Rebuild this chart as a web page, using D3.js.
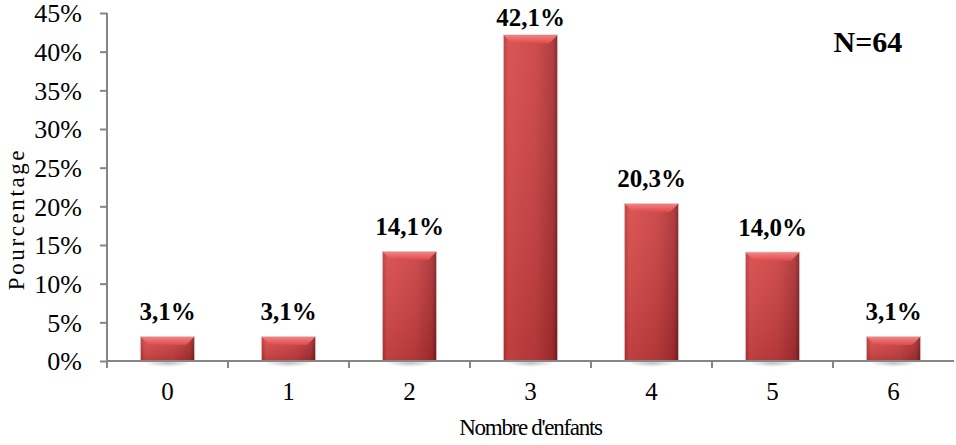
<!DOCTYPE html>
<html>
<head>
<meta charset="utf-8">
<script src="https://cdn.jsdelivr.net/npm/d3@7"></script>
<style>
  body { margin: 0; background: #fff; }
  svg { font-family: 'Liberation Serif', 'Times New Roman', serif; }
</style>
</head>
<body>
<svg id="chart" width="956" height="445"></svg>
<script>
// Chart data
const categories = ['0', '1', '2', '3', '4', '5', '6'];
const values = [3.1, 3.1, 14.1, 42.1, 20.3, 14.0, 3.1];
const valueLabels = ['3,1%', '3,1%', '14,1%', '42,1%', '20,3%', '14,0%', '3,1%'];
const yTicks = [0, 5, 10, 15, 20, 25, 30, 35, 40, 45];

const svg = d3.select('#chart');
const margin = { top: 13, right: 2, bottom: 84, left: 107 };
const width = +svg.attr('width') - margin.left - margin.right;
const height = +svg.attr('height') - margin.top - margin.bottom;

const xScale = d3.scaleBand().domain(categories).range([0, width]).paddingInner(0.56).paddingOuter(0.28);
const yScale = d3.scaleLinear().domain([0, 45]).range([height, 0]);

// Gradients for the bevelled bars
const defs = svg.append('defs');
const hGrad = defs.append('linearGradient').attr('id', 'barH').attr('x1', 0).attr('x2', 1).attr('y1', 0).attr('y2', 0);
hGrad.append('stop').attr('offset', '0%').attr('stop-color', '#b83537');
hGrad.append('stop').attr('offset', '8%').attr('stop-color', '#d84747');
hGrad.append('stop').attr('offset', '60%').attr('stop-color', '#c93e3f');
hGrad.append('stop').attr('offset', '92%').attr('stop-color', '#ab2e30');
hGrad.append('stop').attr('offset', '100%').attr('stop-color', '#7e1e20');

const vGrad = defs.append('linearGradient').attr('id', 'barV').attr('x1', 0).attr('x2', 0).attr('y1', 0).attr('y2', 1);
vGrad.append('stop').attr('offset', '0%').attr('stop-color', '#ffffff').attr('stop-opacity', 0.08);
vGrad.append('stop').attr('offset', '100%').attr('stop-color', '#000000').attr('stop-opacity', 0.12);

const topGrad = defs.append('linearGradient').attr('id', 'barTop').attr('x1', 0).attr('x2', 0).attr('y1', 0).attr('y2', 1);
topGrad.append('stop').attr('offset', '0%').attr('stop-color', '#f58080');
topGrad.append('stop').attr('offset', '100%').attr('stop-color', '#dc4a4b');

const shadowGrad = defs.append('radialGradient').attr('id', 'shadow');
shadowGrad.append('stop').attr('offset', '0%').attr('stop-color', '#999').attr('stop-opacity', 0.6);
shadowGrad.append('stop').attr('offset', '100%').attr('stop-color', '#999').attr('stop-opacity', 0);

const g = svg.append('g').attr('transform', `translate(${margin.left},${margin.top})`);

// Soft shadows under bars
g.selectAll('.shadow')
    .data(values)
    .enter()
    .append('ellipse')
    .attr('cx', (d, i) => xScale(categories[i]) + xScale.bandwidth() / 2)
    .attr('cy', height + 2)
    .attr('rx', xScale.bandwidth() * 0.45)
    .attr('ry', 4)
    .style('fill', 'url(#shadow)');

// Bars
const bars = g.selectAll('.bar')
    .data(values)
    .enter()
    .append('g')
    .attr('class', 'bar');

bars.append('rect')
    .attr('x', (d, i) => xScale(categories[i]) - 1)
    .attr('y', d => yScale(d) - 1)
    .attr('width', xScale.bandwidth() + 2)
    .attr('height', d => height - yScale(d) + 1)
    .style('fill', '#dccccc');

bars.append('rect')
    .attr('x', (d, i) => xScale(categories[i]))
    .attr('y', d => yScale(d))
    .attr('width', xScale.bandwidth())
    .attr('height', d => height - yScale(d))
    .style('fill', 'url(#barH)');

bars.append('rect')
    .attr('x', (d, i) => xScale(categories[i]))
    .attr('y', d => yScale(d))
    .attr('width', xScale.bandwidth())
    .attr('height', d => height - yScale(d))
    .style('fill', 'url(#barV)');

// Top bevel
bars.append('path')
    .attr('d', (d, i) => {
        const x0 = xScale(categories[i]);
        const x1 = x0 + xScale.bandwidth();
        const y0 = yScale(d);
        const b = Math.min(8, (height - yScale(d)) / 2);
        return `M${x0},${y0}L${x1},${y0}L${x1 - b},${y0 + b}L${x0 + b},${y0 + b}Z`;
    })
    .style('fill', 'url(#barTop)');

// Y axis
const yAxis = g.append('g')
    .call(d3.axisLeft(yScale).tickValues(yTicks).tickSize(7).tickFormat(d => d + '%'));
yAxis.select('.domain').attr('stroke', '#868686').attr('stroke-width', 2).attr('d', `M0,0V${height + 7}`);
yAxis.selectAll('.tick line').attr('stroke', '#868686').attr('stroke-width', 2);
yAxis.selectAll('.tick text')
    .attr('x', -25)
    .attr('dy', '0.34em')
    .style('font-family', "'Liberation Serif', serif")
    .style('font-size', '26px')
    .style('fill', '#000');

// X axis
const xAxis = g.append('g')
    .attr('transform', `translate(0,${height})`)
    .call(d3.axisBottom(xScale).tickSize(0).tickPadding(21));
xAxis.select('.domain').attr('stroke', '#868686').attr('stroke-width', 2).attr('d', `M0,0H${width}`);
xAxis.selectAll('.tick text')
    .style('font-family', "'Liberation Serif', serif")
    .style('font-size', '25px')
    .style('fill', '#000');

// Separator ticks between categories
const step = xScale.step();
const boundaries = categories.slice(1).map(c => xScale(c) - (step - xScale.bandwidth()) / 2);
xAxis.selectAll('.sep')
    .data(boundaries)
    .enter()
    .append('line')
    .attr('x1', d => d)
    .attr('x2', d => d)
    .attr('y1', 0)
    .attr('y2', 7)
    .attr('stroke', '#868686')
    .attr('stroke-width', 2);

// Value labels
g.selectAll('.label')
    .data(values)
    .enter()
    .append('text')
    .attr('x', (d, i) => xScale(categories[i]) + xScale.bandwidth() / 2)
    .attr('y', d => Math.max(yScale(d) - 17, 13))
    .attr('text-anchor', 'middle')
    .style('font-size', '25px')
    .style('font-weight', 'bold')
    .text((d, i) => valueLabels[i]);

// N annotation
svg.append('text')
    .attr('x', 868)
    .attr('y', 52)
    .attr('text-anchor', 'middle')
    .style('font-size', '30px')
    .style('font-weight', 'bold')
    .text('N=64');

// Axis titles
svg.append('text')
    .attr('transform', 'translate(24,219) rotate(-90)')
    .attr('text-anchor', 'middle')
    .style('font-size', '23px')
    .style('letter-spacing', '2.6px')
    .text('Pourcentage');

svg.append('text')
    .attr('x', margin.left + width / 2)
    .attr('y', 435)
    .attr('text-anchor', 'middle')
    .style('font-size', '23px')
    .style('letter-spacing', '-1.3px')
    .text("Nombre d'enfants");
</script>
</body>
</html>
